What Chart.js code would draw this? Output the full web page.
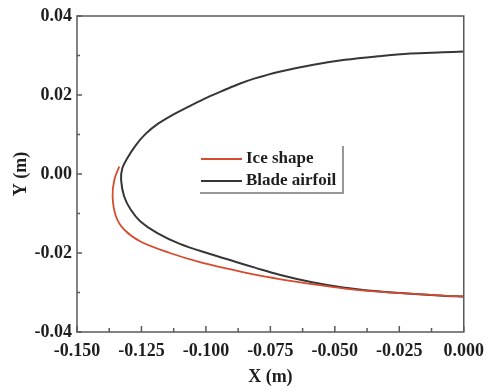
<!DOCTYPE html>
<html>
<head>
<meta charset="utf-8">
<script src="https://cdn.jsdelivr.net/npm/chart.js@4.4.0/dist/chart.umd.min.js"></script>
<style>
  html, body { margin: 0; padding: 0; background: #fff; }
  #wrap { width: 493px; height: 390px; position: relative; }
</style>
</head>
<body>
<div id="wrap"><canvas id="c"></canvas></div>
<script>
// Values (x, y in metres)
const AIRFOIL_X = [0, -0.008, -0.0207, -0.0334, -0.0461, -0.0588, -0.0715, -0.081, -0.0867, -0.093, -0.0994, -0.1057, -0.112, -0.1184,
  -0.1235, -0.1273, -0.1305, -0.1324, -0.1329, -0.1317, -0.1292, -0.1254, -0.119, -0.1101, -0.0987, -0.0886, -0.081, -0.0715,
  -0.0588, -0.0461, -0.0334, -0.0207, -0.008, 0];
const AIRFOIL_Y = [0.031, 0.0308, 0.0305, 0.0298, 0.0289, 0.0276, 0.0259, 0.0242, 0.0229, 0.0212, 0.0194, 0.0174, 0.0153, 0.0128,
  0.0101, 0.0072, 0.004, 0.0015, -0.0015, -0.0057, -0.009, -0.012, -0.0149, -0.0177, -0.0202, -0.0222, -0.0237, -0.0255,
  -0.0274, -0.0288, -0.0297, -0.0303, -0.0308, -0.031];
const ICE_X = [-0.1336, -0.1355, -0.1362, -0.1349, -0.1317, -0.1254, -0.114, -0.1013, -0.0886, -0.081, -0.0715, -0.0588, -0.0461, -0.0334, -0.0207, -0.008, 0];
const ICE_Y = [0.0019, -0.0014, -0.0057, -0.0107, -0.0141, -0.0171, -0.02, -0.0225, -0.0244, -0.0255, -0.0266, -0.0279, -0.029, -0.0298, -0.0303, -0.0308, -0.031];
const SERIES_NAMES = ['Ice shape', 'Blade airfoil'];

const RED = '#d64a30';
const BLACK = '#363636';
const FRAME = '#5a5a5a';
const FONT = "'Liberation Serif', 'Times New Roman', serif";

const pts = (xs, ys) => xs.map((x, i) => ({ x, y: ys[i] }));

// Inward ticks, frame and the boxed legend
const decor = {
  id: 'decor',
  afterDraw(chart) {
    const { ctx, chartArea: a, scales: { x, y } } = chart;
    ctx.save();
    ctx.strokeStyle = FRAME;
    ctx.lineWidth = 1.5;
    ctx.strokeRect(a.left, a.top, a.right - a.left, a.bottom - a.top);

    ctx.beginPath();
    for (let v = -0.15; v <= 0.0001; v += 0.0125) {
      const px = x.getPixelForValue(v);
      const major = Math.abs(Math.round(v / 0.025) * 0.025 - v) < 1e-6;
      ctx.moveTo(px, a.bottom);
      ctx.lineTo(px, a.bottom - (major ? 6 : 4));
    }
    for (let v = -0.04; v <= 0.0401; v += 0.01) {
      const py = y.getPixelForValue(v);
      const major = Math.abs(Math.round(v / 0.02) * 0.02 - v) < 1e-6;
      ctx.moveTo(a.left, py);
      ctx.lineTo(a.left + (major ? 5 : 3), py);
    }
    ctx.stroke();

    // legend
    const lx = 201, ly = [159, 181];
    ctx.lineWidth = 2;
    [RED, BLACK].forEach((c, i) => {
      ctx.strokeStyle = c;
      ctx.beginPath();
      ctx.moveTo(lx, ly[i]);
      ctx.lineTo(lx + 41, ly[i]);
      ctx.stroke();
    });
    ctx.fillStyle = '#1e1e1e';
    ctx.font = 'bold 17px ' + FONT;
    ctx.textBaseline = 'middle';
    SERIES_NAMES.forEach((t, i) => ctx.fillText(t, lx + 45, ly[i]));
    ctx.strokeStyle = '#777';
    ctx.lineWidth = 1.5;
    ctx.beginPath();
    ctx.moveTo(200, 193);
    ctx.lineTo(343, 193);
    ctx.lineTo(343, 146);
    ctx.stroke();
    ctx.restore();
  }
};

new Chart(document.getElementById('c'), {
  type: 'scatter',
  data: {
    datasets: [
      { label: SERIES_NAMES[0], data: pts(ICE_X, ICE_Y), showLine: true, borderColor: RED, borderWidth: 1.8, pointRadius: 0, tension: 0.35 },
      { label: SERIES_NAMES[1], data: pts(AIRFOIL_X, AIRFOIL_Y), showLine: true, borderColor: BLACK, borderWidth: 2, pointRadius: 0, tension: 0.35 }
    ]
  },
  options: {
    responsive: true,
    maintainAspectRatio: false,
    animation: false,
    layout: { padding: { top: 16, right: 22, left: 0, bottom: 0 } },
    plugins: { legend: { display: false }, tooltip: { enabled: false } },
    scales: {
      x: {
        type: 'linear', min: -0.15, max: 0,
        afterFit: s => { s.height = 58; },
        grid: { display: false, drawTicks: false },
        border: { display: false },
        ticks: { stepSize: 0.025, padding: 9, color: '#1e1e1e', font: { family: FONT, size: 18, weight: 'bold' },
          callback: v => v.toFixed(3), maxRotation: 0 },
        title: { display: true, text: 'X (m)', color: '#1e1e1e', font: { family: FONT, size: 18, weight: 'bold' }, padding: { top: 1, bottom: 2 } }
      },
      y: {
        type: 'linear', min: -0.04, max: 0.04,
        afterFit: s => { s.width = 77; },
        grid: { display: false, drawTicks: false },
        border: { display: false },
        ticks: { stepSize: 0.02, padding: 5, color: '#1e1e1e', font: { family: FONT, size: 18, weight: 'bold' },
          callback: v => v.toFixed(2) },
        title: { display: true, text: 'Y (m)', color: '#1e1e1e', font: { family: FONT, size: 18, weight: 'bold' }, padding: { top: 11, bottom: 0 } }
      }
    }
  },
  plugins: [decor]
});
</script>
</body>
</html>
